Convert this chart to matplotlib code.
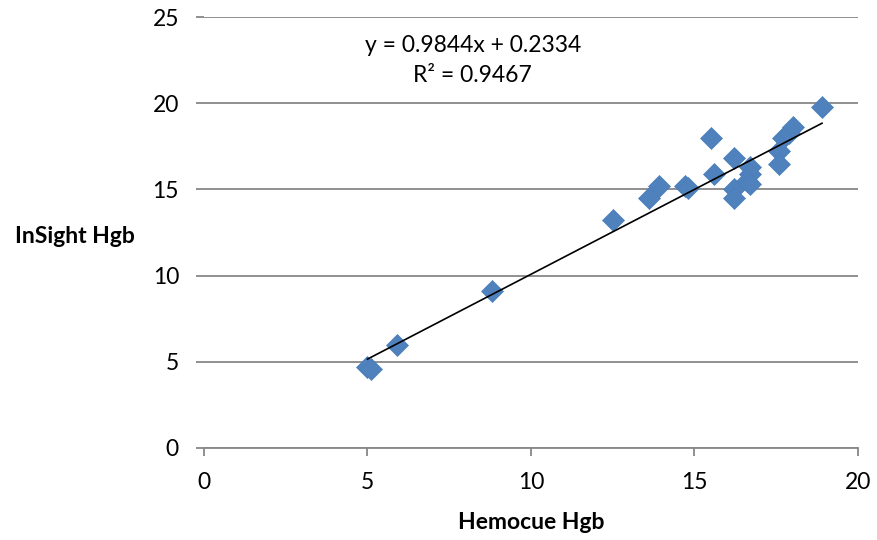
import matplotlib
matplotlib.use('Agg')
import numpy as np
import matplotlib.pyplot as plt

plt.rcParams['font.family'] = ['Lato', 'DejaVu Sans']

# Hemocue vs InSight hemoglobin readings
hemocue = [5.0, 5.1, 5.9, 8.8, 12.5, 13.6, 13.9, 14.7, 14.8, 15.5, 15.6,
           16.2, 16.2, 16.2, 16.7, 16.7, 16.6, 16.7, 17.6, 17.6, 17.7,
           17.9, 18.0, 18.9]
insight = [4.7, 4.6, 6.0, 9.1, 13.2, 14.5, 15.2, 15.2, 15.1, 18.0, 15.9,
           16.8, 15.0, 14.5, 16.3, 15.9, 15.5, 15.3, 17.2, 16.5, 18.0,
           18.3, 18.6, 19.8]

slope = 0.9844
intercept = 0.2334
r2 = 0.9467

xticks = [0, 5, 10, 15, 20]
yticks = [0, 5, 10, 15, 20, 25]

grey = '#878787'
fs = 16.5

fig = plt.figure(figsize=(8.77, 5.40), dpi=100)
ax = fig.add_axes([0.2326, 0.1704, 0.7457, 0.7981])

ax.scatter(hemocue, insight, marker='D', s=125, color='#4F81BD',
           edgecolors='#4A7EBB', linewidths=0.5, zorder=3)

xfit = np.array([min(hemocue), max(hemocue)])
ax.plot(xfit, slope * xfit + intercept, color='black', linewidth=1.2, zorder=4)

ax.set_xlim(0, 20)
ax.set_ylim(0, 25)
ax.set_xticks(xticks)
ax.set_yticks(yticks)
ax.yaxis.grid(True, color=grey, linewidth=1.3)
ax.set_axisbelow(True)

for side in ['left', 'top', 'right']:
    ax.spines[side].set_visible(False)
ax.spines['bottom'].set_color(grey)
ax.spines['bottom'].set_linewidth(1.3)
ax.tick_params(axis='x', direction='out', length=6, width=1.3, color=grey,
               pad=11, labelsize=fs)
ax.tick_params(axis='y', direction='out', length=6, width=1.3, color=grey,
               pad=12, labelsize=fs)

ax.set_xlabel('Hemocue Hgb', fontsize=fs, fontweight='bold', labelpad=14)
fig.text(0.017, 0.562, 'InSight Hgb', fontsize=fs, fontweight='bold',
         ha='left', va='center')

fig.text(0.539, 0.916, 'y = 0.9844x + 0.2334', fontsize=fs, ha='center', va='center')
fig.text(0.539, 0.861, 'R² = %.4f' % r2, fontsize=fs, ha='center', va='center')

fig.savefig('out.png', dpi=100)
